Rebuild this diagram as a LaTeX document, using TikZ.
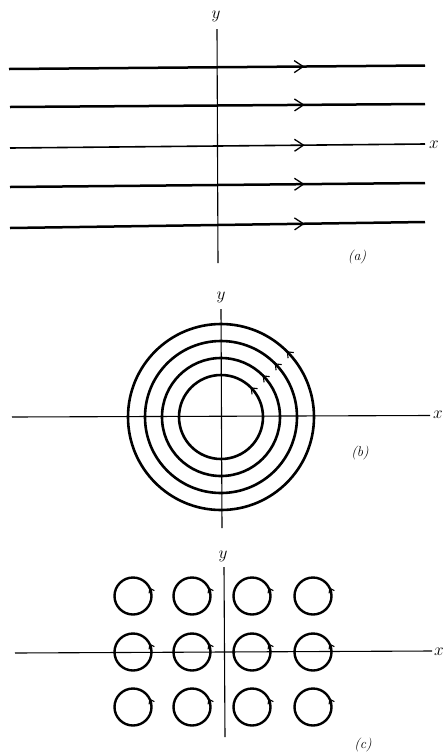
\documentclass[tikz,border=0pt]{standalone}
\usetikzlibrary{arrows.meta,decorations.markings}
\begin{document}
\begin{tikzpicture}[x=1pt,y=-1pt,
  fieldline/.style={line width=2.5pt},
  thinline/.style={line width=1.6pt},
  axisline/.style={line width=1.1pt},
  ring/.style={line width=2.6pt},
  smallring/.style={line width=2.4pt},
  midarrow/.style={postaction={decorate},decoration={markings,
    mark=at position #1 with {\arrow[line width=1.3pt]{Straight Barb[length=9pt,width=12pt]}}}},
  ringarrow/.style={postaction={decorate},decoration={markings,
    mark=at position #1 with {\arrow[line width=1.1pt]{Straight Barb[length=5pt,width=8pt]}}}},
  tinyarrow/.style={postaction={decorate},decoration={markings,
    mark=at position #1 with {\arrow[line width=1.1pt]{Straight Barb[length=4pt,width=6pt]}}}},
  lbl/.style={inner sep=0pt,font=\fontsize{16}{18}\selectfont},
  panel/.style={inner sep=0pt,font=\fontsize{14}{16}\selectfont}
]
\useasboundingbox (0,0) rectangle (445,756);
% ---------- (a) ----------
\coordinate (a1l) at (9,69);   \coordinate (a1r) at (425,65.5);
\coordinate (a2l) at (10,107); \coordinate (a2r) at (425,104);
\coordinate (a3l) at (10,148); \coordinate (a3r) at (425,144);
\coordinate (a4l) at (10,187); \coordinate (a4r) at (425,183);
\coordinate (a5l) at (10,228); \coordinate (a5r) at (425,222);
\draw[fieldline,midarrow=0.71] (a1l) -- (a1r);
\draw[fieldline,midarrow=0.71] (a2l) -- (a2r);
\draw[thinline,midarrow=0.71] (a3l) -- (a3r);
\draw[fieldline,midarrow=0.71] (a4l) -- (a4r);
\draw[fieldline,midarrow=0.71] (a5l) -- (a5r);
\coordinate (ayt) at (217,29); \coordinate (ayb) at (218,263);
\draw[axisline] (ayt) -- (ayb);
\node[lbl] (ay) at (216,16) {$y$};
\node[lbl] (ax) at (434,145) {$x$};
\node[panel] (alab) at (357,257) {\textit{(a)}};
% ---------- (b) ----------
\coordinate (bc) at (221,417);
\draw[axisline] (12,417) -- (430,415.5);
\draw[axisline] (221,309) -- (222,528);
\foreach \r in {93,76,59,42}{
  \draw[ring,ringarrow=0.125] (bc) ++(0:\r) arc[start angle=0,end angle=-360,radius=\r];
}
\node[lbl] (by) at (221,297) {$y$};
\node[lbl] (bx) at (438,415) {$x$};
\node[panel] (blab) at (360,453) {\textit{(b)}};
% ---------- (c) ----------
\draw[axisline] (15,653) -- (432,651);
\draw[axisline] (224,567) -- (225,737);
\foreach \cx in {133,192,252,313}{
  \foreach \cy in {596,652,707}{
    \draw[smallring,tinyarrow=0.075] (\cx,\cy) ++(0:18.5) arc[start angle=0,end angle=-360,radius=18.5];
  }
}
\node[lbl] (cy) at (223,556) {$y$};
\node[lbl] (cx) at (439,652) {$x$};
\node[panel] (clab) at (363,745) {\textit{(c)}};
\end{tikzpicture}
\end{document}
